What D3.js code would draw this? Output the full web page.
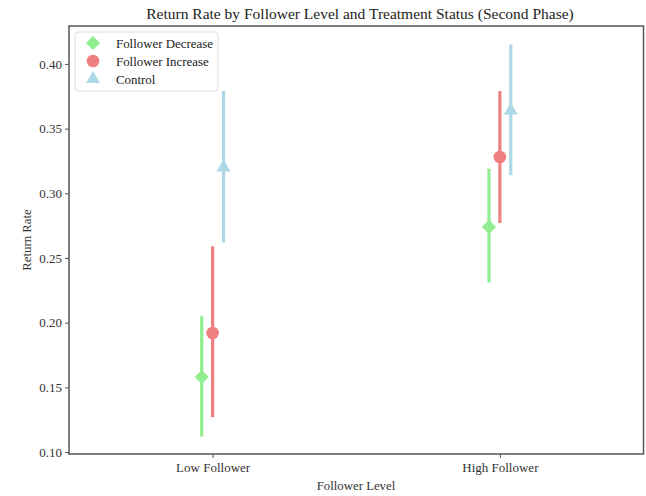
<!DOCTYPE html>
<html>
<head>
<meta charset="utf-8">
<script src="https://cdn.jsdelivr.net/npm/d3@7"></script>
<style>
  body { margin: 0; background: #fff; }
  svg { display: block; font-family: "Liberation Serif", "Times New Roman", serif; }
</style>
</head>
<body>
<div id="chart"></div>
<script>
// data
const levels = ["Low Follower", "High Follower"]
const levelTicks = [0, 1]
const groups = ["Follower Decrease", "Follower Increase", "Control"]
const groupDodge = [-0.038, 0, 0.038]
const groupColors = ["#90ee90", "#f08080", "#add8e6"]
const groupShapes = ["diamond", "circle", "triangle"]

const meanDecrease = [0.158, 0.274]
const lowDecrease = [0.112, 0.231]
const highDecrease = [0.205, 0.319]

const meanIncrease = [0.192, 0.328]
const lowIncrease = [0.127, 0.277]
const highIncrease = [0.259, 0.379]

const meanControl = [0.320, 0.364]
const lowControl = [0.262, 0.314]
const highControl = [0.379, 0.415]

const yTicks = [0.10, 0.15, 0.20, 0.25, 0.30, 0.35, 0.40]

const series = [
  {mean: meanDecrease, lo: lowDecrease, hi: highDecrease},
  {mean: meanIncrease, lo: lowIncrease, hi: highIncrease},
  {mean: meanControl, lo: lowControl, hi: highControl}
]

const width = 646, height = 496
const margin = {top: 26, right: 2.5, bottom: 42, left: 69}

const svg = d3.select("#chart").append("svg")
  .attr("width", width)
  .attr("height", height)

const x = d3.scaleLinear().domain([-0.5, 1.5]).range([margin.left, width - margin.right])
const y = d3.scaleLinear().domain([0.0985, 0.4293]).range([height - margin.bottom, margin.top])

const symbolFor = {
  diamond: d3.symbol().type(d3.symbolSquare).size(100),
  circle: d3.symbol().type(d3.symbolCircle).size(125),
  triangle: d3.symbol().type(d3.symbolTriangle).size(85)
}

// title
svg.append("text")
  .attr("x", 360)
  .attr("y", 19)
  .attr("text-anchor", "middle")
  .style("font-size", "15.5px")
  .style("fill", "#222")
  .text("Return Rate by Follower Level and Treatment Status (Second Phase)")

// axes
const yAxis = svg.append("g")
  .attr("transform", `translate(${margin.left},0)`)
  .call(d3.axisLeft(y).tickValues(yTicks).tickFormat(d3.format(".2f")).tickSize(4).tickPadding(3))
yAxis.select(".domain").remove()
yAxis.selectAll("text").style("font-size", "13px").style("fill", "#333").style("font-family", "Liberation Serif")
yAxis.selectAll("line").attr("stroke", "#555")

const xAxis = svg.append("g")
  .attr("transform", `translate(0,${height - margin.bottom})`)
  .call(d3.axisBottom(x).tickValues(levelTicks).tickFormat((d, i) => levels[i]).tickSize(4).tickPadding(5))
xAxis.select(".domain").remove()
xAxis.selectAll("text").style("font-size", "13px").style("fill", "#333").style("font-family", "Liberation Serif")
xAxis.selectAll("line").attr("stroke", "#555")

svg.append("text")
  .attr("x", 356)
  .attr("y", 490)
  .attr("text-anchor", "middle")
  .style("font-size", "12.8px")
  .style("fill", "#333")
  .text("Follower Level")

svg.append("text")
  .attr("transform", `translate(31,${(margin.top + height - margin.bottom) / 2}) rotate(-90)`)
  .attr("text-anchor", "middle")
  .style("font-size", "12.8px")
  .style("fill", "#333")
  .text("Return Rate")

// points with error bars
series.forEach((s, gi) => {
  const g = svg.append("g")
  const pts = levelTicks.map((t, i) => ({x: t + groupDodge[gi], mean: s.mean[i], lo: s.lo[i], hi: s.hi[i]}))

  g.selectAll("line")
    .data(pts)
    .join("line")
    .attr("x1", d => x(d.x)).attr("x2", d => x(d.x))
    .attr("y1", d => y(d.lo)).attr("y2", d => y(d.hi))
    .attr("stroke", groupColors[gi])
    .attr("stroke-width", 3.2)

  g.selectAll("path")
    .data(pts)
    .join("path")
    .attr("d", symbolFor[groupShapes[gi]])
    .attr("transform", d => `translate(${x(d.x)},${y(d.mean)})` + (groupShapes[gi] === "diamond" ? " rotate(45)" : ""))
    .attr("fill", groupColors[gi])
})

// frame
svg.append("rect")
  .attr("x", margin.left)
  .attr("y", margin.top)
  .attr("width", width - margin.right - margin.left)
  .attr("height", height - margin.bottom - margin.top)
  .attr("fill", "none")
  .attr("stroke", "#555")
  .attr("stroke-width", 1.5)

// legend
const legend = svg.append("g").attr("transform", "translate(75,32)")
legend.append("rect")
  .attr("width", 143)
  .attr("height", 59)
  .attr("rx", 3)
  .attr("fill", "#fff")
  .attr("stroke", "#ddd")

groups.forEach((name, gi) => {
  const row = legend.append("g").attr("transform", `translate(18,${11 + gi * 18})`)
  row.append("path")
    .attr("d", symbolFor[groupShapes[gi]]())
    .attr("transform", groupShapes[gi] === "diamond" ? "rotate(45)" : null)
    .attr("fill", groupColors[gi])
  row.append("text")
    .attr("x", 23)
    .attr("y", 4.5)
    .style("font-size", "12.9px")
    .style("fill", "#222")
    .text(name)
})
</script>
</body>
</html>
